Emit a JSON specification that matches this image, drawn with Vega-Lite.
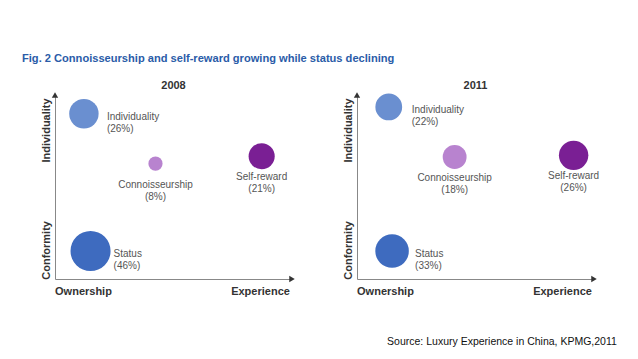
{
  "$schema": "https://vega.github.io/schema/vega-lite/v6.json",
  "background": "white",
  "padding": {"left": 22, "top": 53, "right": 5, "bottom": 5},
  "config": {"view": {"stroke": null}, "font": "Liberation Sans", "concat": {"spacing": 46}},
  "title": {"text": "Fig. 2 Connoisseurship and self-reward growing while status declining", "anchor": "start", "font": "Liberation Sans", "fontSize": 11.1, "fontWeight": "bold", "color": "#2a5ca8", "offset": 16, "dx": -18},
  "datasets": {
    "bubbles": [
      {"year": 2008, "name": "Individuality", "x": 12.2, "y": 89.8, "share": 26},
      {"year": 2008, "name": "Connoisseurship", "x": 42.4, "y": 62.7, "share": 8},
      {"year": 2008, "name": "Self-reward", "x": 87.2, "y": 66.7, "share": 21},
      {"year": 2008, "name": "Status", "x": 15.0, "y": 15.2, "share": 46},
      {"year": 2011, "name": "Individuality", "x": 13.4, "y": 93.5, "share": 22},
      {"year": 2011, "name": "Connoisseurship", "x": 41.2, "y": 66.3, "share": 18},
      {"year": 2011, "name": "Self-reward", "x": 91.4, "y": 67.2, "share": 26},
      {"year": 2011, "name": "Status", "x": 14.8, "y": 15.2, "share": 33}
    ],
    "notes": [
      {"note": "Source: Luxury Experience in China, KPMG,2011", "x": 12.7, "y": -34.5}
    ]
  },
  "hconcat": [
    {
      "width": 237, "height": 184,
      "title": {"text": "2008", "fontSize": 11, "fontWeight": "bold", "color": "#333", "offset": 1},
      "data": {"name": "bubbles"},
      "transform": [{"filter": "datum.year === 2008"}, {"calculate": "datum.name + '\\n(' + datum.share + '%)'", "as": "label"}],
      "encoding": {
        "x": {"field": "x", "type": "quantitative", "scale": {"domain": [0, 100]},
          "axis": {"title": null, "grid": false, "ticks": false, "values": [11.8, 86.5], "labelExpr": "datum.value < 50 ? 'Ownership' : 'Experience'", "domainColor": "#888", "labelFontWeight": "bold", "labelFontSize": 11, "labelColor": "#333", "labelPadding": 6, "labelFlush": false}},
        "y": {"field": "y", "type": "quantitative", "scale": {"domain": [0, 100]},
          "axis": {"title": null, "grid": false, "ticks": false, "values": [81, 15.8], "labelExpr": "datum.value > 50 ? 'Individuality' : 'Conformity'", "labelAngle": -90, "labelAlign": "center", "labelBaseline": "bottom", "domainColor": "#888", "labelFontWeight": "bold", "labelFontSize": 11, "labelColor": "#333", "labelPadding": 4, "labelFlush": false}}
      },
      "layer": [
        {"mark": {"type": "circle", "opacity": 1},
          "encoding": {
            "size": {"field": "share", "type": "quantitative", "scale": {"domain": [5, 50], "range": [90, 1750]}, "legend": null},
            "color": {"field": "name", "type": "nominal", "scale": {"domain": ["Individuality", "Connoisseurship", "Self-reward", "Status"], "range": ["#6a8fd0", "#b883cf", "#7a1f94", "#3e6bbf"]}, "legend": null}
          }},
        {"transform": [{"filter": "datum.name === 'Individuality' || datum.name === 'Status'"}],
          "mark": {"type": "text", "align": "left", "baseline": "middle", "dx": 23, "dy": 3, "lineBreak": "\n", "lineHeight": 12, "fontSize": 10, "color": "#555"},
          "encoding": {"text": {"field": "label"}}},
        {"transform": [{"filter": "datum.name === 'Connoisseurship' || datum.name === 'Self-reward'"}],
          "mark": {"type": "text", "align": "center", "baseline": "top", "dy": 16, "lineBreak": "\n", "lineHeight": 12, "fontSize": 10, "color": "#555"},
          "encoding": {"text": {"field": "label"}}},
        {"data": {"values": [{"x": 100, "y": 0}]},
          "mark": {"type": "point", "shape": "triangle-right", "filled": true, "size": 40, "color": "#333", "opacity": 1},
          "encoding": {}},
        {"data": {"values": [{"x": 0, "y": 100}]},
          "mark": {"type": "point", "shape": "triangle-up", "filled": true, "size": 40, "color": "#333", "opacity": 1},
          "encoding": {}}
      ]
    },
    {
      "width": 237, "height": 184,
      "title": {"text": "2011", "fontSize": 11, "fontWeight": "bold", "color": "#333", "offset": 1},
      "data": {"name": "bubbles"},
      "transform": [{"filter": "datum.year === 2011"}, {"calculate": "datum.name + '\\n(' + datum.share + '%)'", "as": "label"}],
      "encoding": {
        "x": {"field": "x", "type": "quantitative", "scale": {"domain": [0, 100]},
          "axis": {"title": null, "grid": false, "ticks": false, "values": [11.8, 86.5], "labelExpr": "datum.value < 50 ? 'Ownership' : 'Experience'", "domainColor": "#888", "labelFontWeight": "bold", "labelFontSize": 11, "labelColor": "#333", "labelPadding": 6, "labelFlush": false}},
        "y": {"field": "y", "type": "quantitative", "scale": {"domain": [0, 100]},
          "axis": {"title": null, "grid": false, "ticks": false, "values": [81, 15.8], "labelExpr": "datum.value > 50 ? 'Individuality' : 'Conformity'", "labelAngle": -90, "labelAlign": "center", "labelBaseline": "bottom", "domainColor": "#888", "labelFontWeight": "bold", "labelFontSize": 11, "labelColor": "#333", "labelPadding": 4, "labelFlush": false}}
      },
      "layer": [
        {"mark": {"type": "circle", "opacity": 1},
          "encoding": {
            "size": {"field": "share", "type": "quantitative", "scale": {"domain": [5, 50], "range": [90, 1750]}, "legend": null},
            "color": {"field": "name", "type": "nominal", "scale": {"domain": ["Individuality", "Connoisseurship", "Self-reward", "Status"], "range": ["#6a8fd0", "#b883cf", "#7a1f94", "#3e6bbf"]}, "legend": null}
          }},
        {"transform": [{"filter": "datum.name === 'Individuality' || datum.name === 'Status'"}],
          "mark": {"type": "text", "align": "left", "baseline": "middle", "dx": 23, "dy": 3, "lineBreak": "\n", "lineHeight": 12, "fontSize": 10, "color": "#555"},
          "encoding": {"text": {"field": "label"}}},
        {"transform": [{"filter": "datum.name === 'Connoisseurship' || datum.name === 'Self-reward'"}],
          "mark": {"type": "text", "align": "center", "baseline": "top", "dy": 16, "lineBreak": "\n", "lineHeight": 12, "fontSize": 10, "color": "#555"},
          "encoding": {"text": {"field": "label"}}},
        {"data": {"values": [{"x": 100, "y": 0}]},
          "mark": {"type": "point", "shape": "triangle-right", "filled": true, "size": 40, "color": "#333", "opacity": 1},
          "encoding": {}},
        {"data": {"values": [{"x": 0, "y": 100}]},
          "mark": {"type": "point", "shape": "triangle-up", "filled": true, "size": 40, "color": "#333", "opacity": 1},
          "encoding": {}},
        {"data": {"name": "notes"},
          "mark": {"type": "text", "align": "left", "baseline": "middle", "fontSize": 10.5, "fontWeight": "normal", "color": "#111"},
          "encoding": {"text": {"field": "note"}}}
      ]
    }
  ]
}
